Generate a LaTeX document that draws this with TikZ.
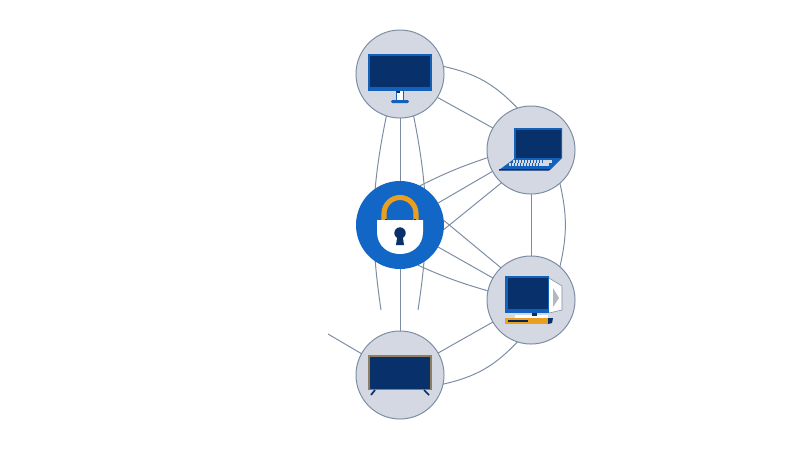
\documentclass[tikz,border=0pt]{standalone}
\usepackage{xcolor}
\usetikzlibrary{backgrounds}
\definecolor{linkgray}{HTML}{7C8DA3}
\definecolor{discgray}{HTML}{D3D8E2}
\definecolor{lockblue}{HTML}{1166C6}
\definecolor{screenblue}{HTML}{1262BC}
\definecolor{navy}{HTML}{08306A}
\definecolor{amber}{HTML}{E9A020}
\definecolor{tvtan}{HTML}{8F7F5E}
\tikzset{
  device/.style={circle, draw=linkgray, fill=discgray, line width=0.7pt, minimum size=2.2cm, inner sep=0pt, outer sep=0pt},
  hub/.style={circle, fill=lockblue, minimum size=2.2cm, inner sep=0pt, outer sep=0pt},
  link/.style={draw=linkgray, line width=0.7pt}
}
\begin{document}
\begin{tikzpicture}[x=0.025cm, y=-0.025cm]
  \useasboundingbox (0,0) rectangle (800,450);
  % Kruhy
  \node[device] (monitor) at (400,74) {};
  \node[device] (laptop) at (531,150) {};
  \node[hub] (lock) at (400,225) {};
  \node[device] (desktop) at (531,300) {};
  \node[device] (tv) at (400,375) {};
  \coordinate (tvend) at (328,334);
  \coordinate (leftend) at (381,310);
  \coordinate (rightend) at (418,310);

  % Propojení
  \begin{scope}[on background layer]
    \draw[link] (monitor.252) to[bend right=10] (leftend);
    \draw[link] (monitor.288) to[bend left=10] (rightend);
  \end{scope}
  \draw[link] (monitor.270) -- (lock.90);
  \draw[link] (lock.270) -- (tv.90);
  \draw[link] (monitor.-32) -- (laptop.150);
  \draw[link] (monitor.10) to[bend left=17] (laptop.108);
  \draw[link] (laptop.270) -- (desktop.90);
  \draw[link] (laptop.-49) to[bend left=13] (desktop.49);
  \draw[link] (desktop.210) -- (tv.30);
  \draw[link] (desktop.252) to[bend left=17] (tv.-12);
  \draw[link] (tv.151) -- (tvend);
  \draw[link] (lock.63) to[bend left=4] (laptop.190);
  \draw[link] (lock.30) -- (laptop.209);
  \draw[link] (lock.-6) -- (laptop.228);
  \draw[link] (lock.6) -- (desktop.133);
  \draw[link] (lock.-30) -- (desktop.150);
  \draw[link] (lock.-66) to[bend right=4] (desktop.168);

  % Monitor
  \fill[screenblue] (368,54) rectangle (432,91);
  \fill[navy] (370,56) rectangle (430,87);
  \fill[white] (396,91) rectangle (403,100);
  \fill[navy] (396,91) rectangle (400,92.5);
  \draw[screenblue, line width=0.5pt] (396,92) -- (396,100) (403,91) -- (403,100);
  \fill[screenblue, rounded corners=1pt] (391,100) rectangle (409,103);

  % Notebook
  \fill[screenblue] (514,128) -- (562,128) -- (562,158) -- (550,170) -- (499,170) -- (514,159) -- cycle;
  \fill[navy] (515.5,129.5) rectangle (560.5,157.5);
  \draw[discgray, line width=1.6pt, dash pattern=on 1.6pt off 0.5pt] (513,161.5) -- (552,161.5);
  \draw[discgray, line width=1.6pt, dash pattern=on 1.6pt off 0.5pt] (509,164.5) -- (549,164.5);
  \fill[navy] (499,169) -- (550,169) -- (549,170.5) -- (499,170.5) -- cycle;

  % Stolní počítač
  \fill[white] (549,278) -- (562,286) -- (562,310) -- (549,313) -- cycle;
  \draw[linkgray, line width=0.4pt] (549,278) -- (562,286) -- (562,310) -- (549,313);
  \fill[discgray!85!black] (553,288) -- (559,298) -- (553,307) -- cycle;
  \fill[screenblue] (505,276) rectangle (549,313);
  \fill[navy] (508,278) rectangle (547.5,309);
  \fill[white] (515,315) rectangle (548,318);
  \fill[navy] (532,313) rectangle (537,316);
  \fill[navy] (548,318) -- (553,318) -- (552,323) -- (548,324) -- cycle;
  \fill[amber] (505,318) rectangle (548,324);
  \fill[navy!80!black] (508,320) rectangle (528,321.5);

  % Zámek
  \draw[amber, line width=3.6pt] (384,220) -- (384,213.5) arc[start angle=180, end angle=360, x radius=16, y radius=16] -- (416,220);
  \fill[navy] (384.5,218.5) rectangle (386.5,220);
  \fill[navy] (413.5,218.5) rectangle (415.5,220);
  \fill[white] (377,220) -- (423,220) -- (423,232) .. controls (423,246) and (412,254) .. (400,254) .. controls (388,254) and (377,246) .. (377,232) -- cycle;
  \fill[navy] (400,233) circle[radius=5.7];
  \fill[navy] (397.5,235) -- (402.5,235) -- (404,245) -- (396,245) -- cycle;

  % Televize
  \fill[tvtan] (368,355) rectangle (432,390);
  \fill[navy] (370,357) rectangle (430,388.5);
  \draw[navy, line width=1.2pt] (375,390) -- (371,395);
  \draw[navy, line width=1.2pt] (424,390) -- (429,395);
\end{tikzpicture}
\end{document}
